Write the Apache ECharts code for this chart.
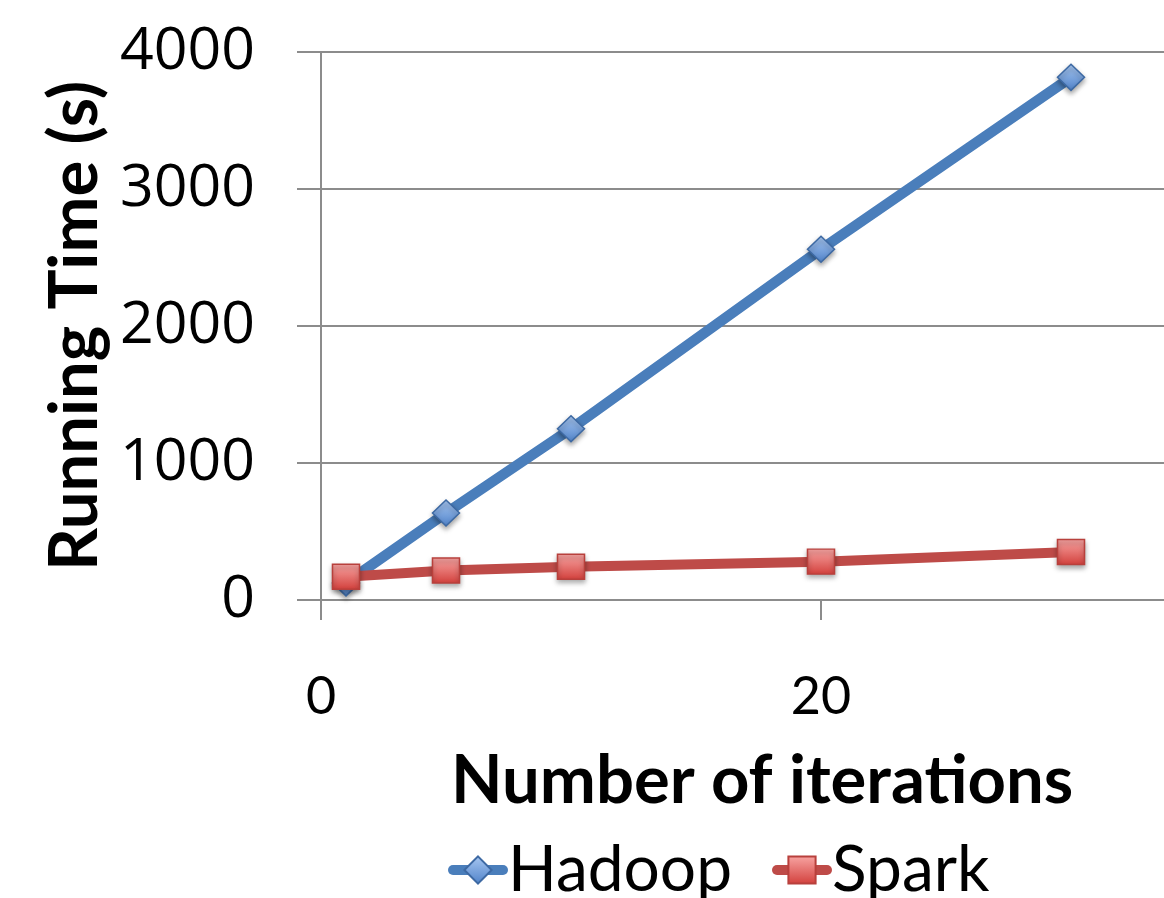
<!DOCTYPE html>
<html>
<head>
<meta charset="utf-8">
<script src="https://cdn.jsdelivr.net/npm/echarts@6/dist/echarts.min.js"></script>
<style>
  html, body { margin: 0; padding: 0; background: #fff; }
  #chart { width: 1164px; height: 898px; }
</style>
</head>
<body>
<div id="chart"></div>
<script>
// Iteration counts and running times (seconds)
const iterations = [1, 5, 10, 20, 30];
const hadoopTimes = [125, 635, 1250, 2560, 3815];
const sparkTimes = [170, 215, 242, 280, 350];
const seriesNames = ['Hadoop', 'Spark'];
const xAxisTitle = 'Number of iterations';
const yAxisTitle = 'Running Time (s)';

const sans = "Lato, 'Noto Sans', sans-serif";
const gridColor = '#8c8c8c';

function pairs(xs, ys) {
  return xs.map((x, i) => [x, ys[i]]);
}

function grad(top, bottom) {
  return new echarts.graphic.LinearGradient(0, 0, 0, 1, [
    { offset: 0, color: top },
    { offset: 1, color: bottom }
  ]);
}

const chart = echarts.init(document.getElementById('chart'), null, { renderer: 'canvas' });

chart.setOption({
  animation: false,
  backgroundColor: '#ffffff',
  grid: { left: 321, top: 52, bottom: 298, right: -157, outerBoundsMode: 'none', containLabel: false },
  title: {
    text: xAxisTitle,
    left: 446,
    top: 743,
    textStyle: { fontFamily: sans, fontWeight: 'bold', fontSize: 67, color: '#000' }
  },
  legend: {
    left: 448,
    top: 838,
    padding: 0,
    itemWidth: 50,
    itemHeight: 34,
    itemGap: 40,
    lineStyle: { width: 10, cap: 'round' },
    textStyle: { fontFamily: sans, fontSize: 64, color: '#000', padding: [0, 0, 22, 0] },
    data: seriesNames
  },
  xAxis: {
    type: 'value',
    min: 0,
    max: 40,
    interval: 20,
    axisLine: { show: true, onZero: false, lineStyle: { color: gridColor, width: 2 } },
    axisTick: { show: true, length: 20, lineStyle: { color: gridColor, width: 2 } },
    splitLine: { show: false },
    axisLabel: { margin: 71, fontFamily: sans, fontSize: 52, color: '#000' }
  },
  yAxis: {
    type: 'value',
    min: 0,
    max: 4000,
    interval: 1000,
    name: yAxisTitle,
    nameLocation: 'middle',
    nameRotate: 90,
    nameGap: 210,
    nameTextStyle: { fontFamily: sans, fontWeight: 'bold', fontSize: 67, color: '#000' },
    axisLine: { show: true, lineStyle: { color: gridColor, width: 2 } },
    axisTick: { show: true, length: 24, lineStyle: { color: gridColor, width: 2 } },
    splitLine: { show: true, lineStyle: { color: gridColor, width: 2 } },
    axisLabel: {
      margin: 66,
      fontFamily: "'Open Sans', sans-serif",
      fontSize: 59,
      color: '#000',
      formatter: (v) => String(v)
    }
  },
  series: [
    {
      name: seriesNames[0],
      type: 'line',
      data: pairs(iterations, hadoopTimes),
      symbol: 'diamond',
      symbolSize: [27, 26],
      lineStyle: { color: '#4a7ebb', width: 10.5 },
      itemStyle: {
        color: grad('#a9c8f2', '#4f82c9'),
        borderColor: '#3d69a3',
        borderWidth: 1.5,
        shadowColor: 'rgba(0,0,0,0.35)',
        shadowBlur: 5,
        shadowOffsetY: 3
      }
    },
    {
      name: seriesNames[1],
      type: 'line',
      data: pairs(iterations, sparkTimes),
      symbol: 'rect',
      symbolSize: [27, 25],
      lineStyle: { color: '#be4b48', width: 10 },
      itemStyle: {
        color: grad('#f8a6a4', '#d23f3b'),
        borderColor: '#b8403c',
        borderWidth: 1.5,
        shadowColor: 'rgba(0,0,0,0.35)',
        shadowBlur: 5,
        shadowOffsetY: 3
      }
    }
  ]
});
</script>
</body>
</html>
